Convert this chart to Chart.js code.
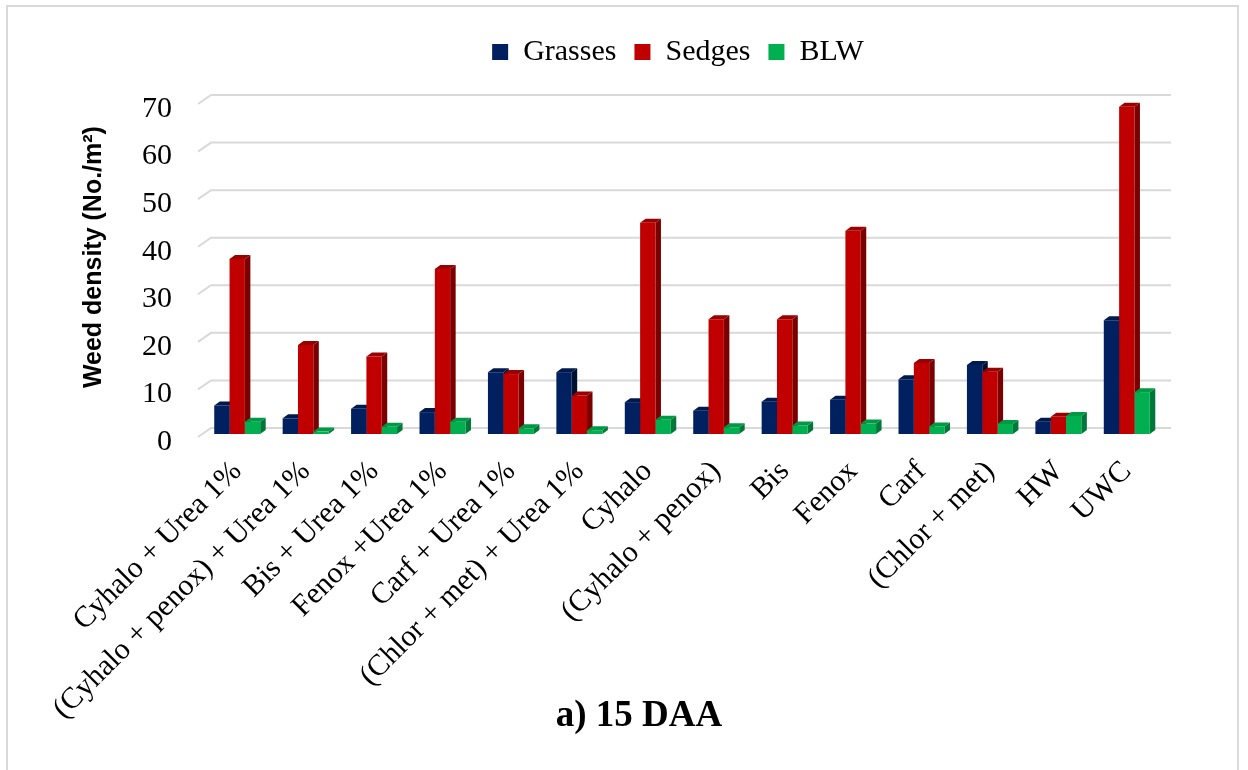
<!DOCTYPE html>
<html>
<head>
<meta charset="utf-8">
<script src="https://cdn.jsdelivr.net/npm/chart.js@4.4.1/dist/chart.umd.min.js"></script>
<style>
  html, body { margin: 0; padding: 0; background: #fff; }
  #wrap { position: relative; width: 1248px; height: 770px; overflow: hidden; }
  #frame { position: absolute; left: 6px; top: 5px; width: 1229px; height: 800px; border: 2px solid #d9d9d9; box-sizing: content-box; pointer-events: none; }
  canvas { position: absolute; left: 0; top: 0; }
</style>
</head>
<body>
<div id="wrap">
  <canvas id="c" width="1248" height="770"></canvas>
  <div id="frame"></div>
</div>
<script>
const categories = ['Cyhalo + Urea 1%', '(Cyhalo + penox) + Urea 1%', 'Bis + Urea 1%', 'Fenox +Urea 1%', 'Carf + Urea 1%', '(Chlor + met) + Urea 1%', 'Cyhalo', '(Cyhalo + penox)', 'Bis', 'Fenox', 'Carf', '(Chlor + met)', 'HW', 'UWC'];
const grasses = [6.0, 3.3, 5.3, 4.6, 13.0, 13.0, 6.7, 4.9, 6.8, 7.2, 11.5, 14.5, 2.6, 23.9];
const sedges  = [36.8, 18.7, 16.3, 34.7, 12.6, 8.1, 44.4, 24.1, 24.1, 42.7, 14.9, 13.1, 3.6, 68.8];
const blw     = [2.6, 0.5, 1.5, 2.6, 1.2, 0.8, 3.0, 1.4, 1.8, 2.2, 1.6, 2.1, 3.8, 8.8];
const seriesNames = ['Grasses', 'Sedges', 'BLW'];
const yTicks = [0, 10, 20, 30, 40, 50, 60, 70];
const titleText = 'a) 15 DAA';
const yTitle = 'Weed density (No./m\u00B2)';

const frontColors = ['#002060', '#C00000', '#00B050'];
const sideColors  = ['#00112f', '#7a0000', '#00783a'];
const topColors   = ['#001a4d', '#9a0000', '#009944'];

const SERIF = "'Liberation Serif', 'Times New Roman', serif";
const SANS = "'Liberation Sans', Arial, sans-serif";
const DX = 5.5, DY = 4;

const threeD = {
  id: 'threeD',
  beforeDatasetsDraw(chart) {
    const ctx = chart.ctx;
    const y = chart.scales.y;
    const ca = chart.chartArea;
    ctx.save();
    ctx.strokeStyle = '#d9d9d9';
    ctx.lineWidth = 2;
    yTicks.forEach(v => {
      const py = y.getPixelForValue(v);
      ctx.beginPath();
      ctx.moveTo(ca.left - 5, py + 3);
      ctx.lineTo(ca.left + 8, py - 6);
      ctx.lineTo(ca.right + 10, py - 6);
      ctx.stroke();
    });
    const n = categories.length;
    for (let i = 0; i < n; i++) {
      chart.data.datasets.forEach((ds, d) => {
        const meta = chart.getDatasetMeta(d);
        if (meta.hidden) return;
        const el = meta.data[i];
        if (!el) return;
        const half = el.width / 2;
        const l = el.x - half, r = el.x + half, t = el.y, b = el.base;
        ctx.fillStyle = sideColors[d];
        ctx.beginPath();
        ctx.moveTo(r, b);
        ctx.lineTo(r, t);
        ctx.lineTo(r + DX, t - DY);
        ctx.lineTo(r + DX, b - DY);
        ctx.closePath();
        ctx.fill();
        ctx.fillStyle = topColors[d];
        ctx.beginPath();
        ctx.moveTo(l, t);
        ctx.lineTo(l + DX, t - DY);
        ctx.lineTo(r + DX, t - DY);
        ctx.lineTo(r, t);
        ctx.closePath();
        ctx.fill();
      });
    }
    ctx.restore();
  }
};

const shiftBoxes = {
  id: 'shiftBoxes',
  afterLayout(chart) {
    const lg = chart.legend;
    if (lg) {
      const s = 678 - (lg.left + lg.right) / 2;
      lg.left += s; lg.right += s;
    }
    const tt = chart.titleBlock;
    if (tt) {
      const s2 = 639 - (tt.left + tt.right) / 2;
      tt.left += s2; tt.right += s2;
    }
    chart.scales.x.bottom = chart.height;
  }
};

const chart = new Chart(document.getElementById('c'), {
  type: 'bar',
  data: {
    labels: categories,
    datasets: [
      { label: seriesNames[0], data: grasses, backgroundColor: frontColors[0] },
      { label: seriesNames[1], data: sedges, backgroundColor: frontColors[1] },
      { label: seriesNames[2], data: blw, backgroundColor: frontColors[2] }
    ]
  },
  options: {
    responsive: false,
    animation: false,
    layout: { padding: { left: 0, right: 87, top: 19, bottom: 0 } },
    datasets: { bar: { categoryPercentage: 0.672, barPercentage: 1.0, borderWidth: 0 } },
    plugins: {
      legend: {
        position: 'top',
        labels: {
          font: { family: SERIF, size: 30 },
          color: '#000',
          boxWidth: 16,
          boxHeight: 16,
          padding: 18
        }
      },
      subtitle: {
        display: true,
        position: 'top',
        weight: 500,
        text: ' ',
        font: { size: 10, lineHeight: 1 },
        padding: { top: 7, bottom: 7 }
      },
      title: {
        display: true,
        position: 'bottom',
        text: titleText,
        color: '#000',
        font: { family: SERIF, size: 37, weight: 'bold', lineHeight: 1.2 },
        padding: { top: 0, bottom: 31 }
      },
      tooltip: { enabled: false }
    },
    scales: {
      x: {
        grid: { display: false, drawTicks: false },
        border: { display: false },
        ticks: {
          font: { family: SERIF, size: 30 },
          color: '#000',
          minRotation: 45,
          maxRotation: 45,
          padding: 20,
          autoSkip: false
        },
        afterFit(scale) { scale.height = 770 - 434 - 31 - 37 * 1.2; }
      },
      y: {
        min: 0,
        max: 70,
        grid: { display: false, drawTicks: false },
        border: { display: false },
        afterBuildTicks(scale) { scale.ticks = yTicks.map(v => ({ value: v })); },
        ticks: {
          font: { family: SERIF, size: 30, lineHeight: '16px' },
          color: '#000',
          padding: 31,
          callback: (v) => ['', String(v)]
        },
        title: {
          display: true,
          text: '   ' + yTitle,
          color: '#000',
          font: { family: SANS, size: 25, weight: 'bold', lineHeight: 1.2 },
          padding: { top: 79, bottom: 0 }
        },
        afterFit(scale) { scale.width = 203; }
      }
    }
  },
  plugins: [threeD, shiftBoxes]
});
</script>
</body>
</html>
